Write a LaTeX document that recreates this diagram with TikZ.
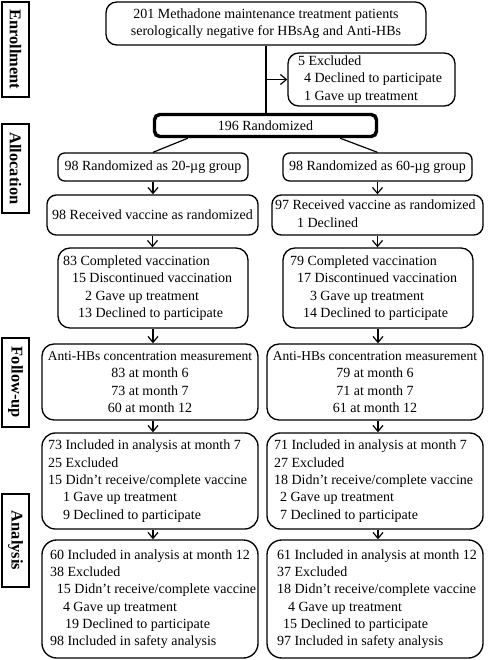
\documentclass[tikz,border=0pt]{standalone}
\usepackage{fontspec}
\setmainfont{Liberation Serif}
\usetikzlibrary{arrows.meta}
\newcommand\boxtext[2]{\makebox[#1][l]{\begin{tabular}{@{}l@{}}#2\end{tabular}}}
\begin{document}
\begin{tikzpicture}[x=0.75pt, y=-0.75pt,
  txt/.style={font=\fontsize{10.5}{13}\selectfont},
  box/.style={draw, line width=1pt, rounded corners=7pt, inner sep=0pt, txt},
  side/.style={draw, line width=0.8pt, rotate=-90, inner sep=0pt, font=\fontsize{12.3}{15}\selectfont\bfseries, minimum height=20.25pt},
  arr/.style={line width=0.9pt, -{Straight Barb[length=4.5pt,width=7.5pt]}},
  link/.style={line width=0.9pt}]
\useasboundingbox (0,0) rectangle (490,660);

% stage labels
\node[side, minimum width=71.25pt] (enr) at (15.5,49.5) {Enrollment};
\node[side, minimum width=66.75pt] (alo) at (15.5,168.5) {Allocation};
\node[side, minimum width=66.75pt] (fol) at (15.5,382.5) {Follow-up};
\node[side, minimum width=69.75pt] (ana) at (15.5,540.5) {Analysis};

% enrollment
\node[box, align=center, minimum width=240pt, minimum height=32.25pt, rounded corners=8pt] (top) at (266,23.5)
  {201 Methadone maintenance treatment patients\\serologically negative for HBsAg and Anti-HBs};
\node[box, minimum width=125.25pt, minimum height=39.75pt, rounded corners=8pt] (excl) at (371.5,79.5)
  {\boxtext{110.25pt}{5 Excluded\\\hspace*{4.5pt}4 Declined to participate\\\hspace*{4.5pt}1 Gave up treatment}};
\node[box, line width=2.6pt, rounded corners=4pt, minimum width=166.5pt, minimum height=16.5pt] (rand) at (265.5,125.5)
  {196 Randomized};

% allocation
\node[box, rounded corners=5pt, minimum width=142.5pt, minimum height=21pt] (g20) at (153,167) {98 Randomized as 20-µg group};
\node[box, rounded corners=5pt, minimum width=141.75pt, minimum height=21pt] (g60) at (377.5,167) {98 Randomized as 60-µg group};
\node[box, minimum width=158.25pt, minimum height=30pt] (r20) at (152.5,215) {98 Received vaccine as randomized};
\node[box, minimum width=158.25pt, minimum height=30pt] (r60) at (377.5,215)
  {\boxtext{153.75pt}{97 Received vaccine as randomized\\\hspace*{16.5pt}1 Declined}};
\node[box, rounded corners=9pt, minimum width=142.5pt, minimum height=60pt] (c20) at (153,288)
  {\boxtext{135pt}{83 Completed vaccination\\\hspace*{6.75pt}15 Discontinued vaccination\\\hspace*{16.5pt}2 Gave up treatment\\\hspace*{11.25pt}13 Declined to participate}};
\node[box, rounded corners=9pt, minimum width=142.5pt, minimum height=60pt] (c60) at (378,288)
  {\boxtext{132pt}{79 Completed vaccination\\\hspace*{5.25pt}17 Discontinued vaccination\\\hspace*{15pt}3 Gave up treatment\\\hspace*{9.75pt}14 Declined to participate}};

% follow-up
\node[box, align=center, rounded corners=9pt, minimum width=162pt, minimum height=57pt] (a20) at (150,382)
  {{\fontsize{10.1}{13}\selectfont Anti-HBs concentration measurement}\\83 at month 6\\73 at month 7\\60 at month 12};
\node[box, align=center, rounded corners=9pt, minimum width=162pt, minimum height=57pt] (a60) at (375,382)
  {{\fontsize{10.1}{13}\selectfont Anti-HBs concentration measurement}\\79 at month 6\\71 at month 7\\61 at month 12};

% analysis
\node[box, rounded corners=10pt, minimum width=162pt, minimum height=72pt] (s20) at (150,481)
  {\boxtext{153pt}{73 Included in analysis at month 7\\25 Excluded\\15 Didn’t receive/complete vaccine\\\hspace*{11.25pt}1 Gave up treatment\\\hspace*{11.25pt}9 Declined to participate}};
\node[box, rounded corners=10pt, minimum width=162pt, minimum height=72pt] (s60) at (375,481)
  {\boxtext{151.5pt}{71 Included in analysis at month 7\\27 Excluded\\18 Didn’t receive/complete vaccine\\\hspace*{4.5pt}2 Gave up treatment\\\hspace*{4.5pt}7 Declined to participate}};
\node[box, rounded corners=11pt, minimum width=162pt, minimum height=88.5pt] (t20) at (150,599)
  {\boxtext{150pt}{60 Included in analysis at month 12\\38 Excluded\\\hspace*{5.25pt}15 Didn’t receive/complete vaccine\\\hspace*{9.75pt}4 Gave up treatment\\\hspace*{11.25pt}19 Declined to participate\\98 Included in safety analysis}};
\node[box, rounded corners=11pt, minimum width=162pt, minimum height=88.5pt] (t60) at (375,599)
  {\boxtext{147pt}{61 Included in analysis at month 12\\37 Excluded\\18 Didn’t receive/complete vaccine\\\hspace*{8.25pt}4 Gave up treatment\\\hspace*{4.5pt}15 Declined to participate\\97 Included in safety analysis}};

% connectors
\draw[link] (top.south) -- (top.south |- rand.north);
\draw[arr] (top.south |- excl.west) -- (excl.west);
\draw[link] ([xshift=26.25pt]rand.south west) -- (g20.north);
\draw[link] ([xshift=-28.5pt]rand.south east) -- (g60.north);
\draw[arr] (g20.south) -- (g20.south |- r20.north);
\draw[arr] (g60.south) -- (g60.south |- r60.north);
\draw[arr] (r20.south) -- (r20.south |- c20.north);
\draw[arr] (r60.south) -- (r60.south |- c60.north);
\draw[arr] (c20.south) -- (c20.south |- a20.north);
\draw[arr] (c60.south) -- (c60.south |- a60.north);
\draw[arr] (c20.south |- a20.south) -- (c20.south |- s20.north);
\draw[arr] (c60.south |- a60.south) -- (c60.south |- s60.north);
\draw[arr] (c20.south |- s20.south) -- (c20.south |- t20.north);
\draw[arr] (c60.south |- s60.south) -- (c60.south |- t60.north);
\end{tikzpicture}
\end{document}
